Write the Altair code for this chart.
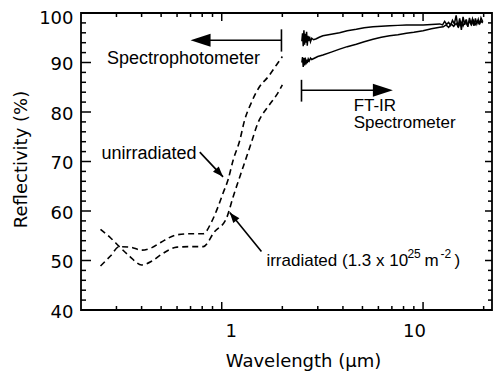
import altair as alt
import pandas as pd

# ---------------- data ----------------
# Spectrophotometer (dashed)
unirr_wl = [0.25, 0.28, 0.31, 0.35, 0.40, 0.45, 0.50, 0.60, 0.70, 0.81, 0.89, 0.96, 1.015, 1.075,
            1.14, 1.23, 1.30, 1.40, 1.54, 1.70, 1.87, 2.0]
unirr_r = [48.9, 50.9, 52.8, 52.7, 52.1, 52.6, 53.7, 55.2, 55.4, 55.4, 57.8, 60.9, 63.6, 66.3,
           70.3, 74.3, 78.4, 81.8, 85.1, 87.1, 89.5, 91.2]
irr_wl = [0.25, 0.28, 0.31, 0.35, 0.40, 0.45, 0.50, 0.60, 0.70, 0.81, 0.92, 1.055, 1.14, 1.28,
          1.40, 1.51, 1.70, 1.87, 2.0]
irr_r = [56.3, 54.6, 52.8, 50.8, 49.1, 49.9, 51.2, 52.7, 52.8, 52.8, 55.8, 58.5, 62.9, 69.0,
         73.7, 77.7, 81.1, 83.4, 85.5]

# FT-IR (solid)
ftir_unirr_wl = [2.50, 2.52, 2.54, 2.56, 2.58, 2.60, 2.62, 2.64, 2.66, 2.68, 2.70, 2.73, 2.76, 2.80,
                 2.86, 2.95, 3.05, 3.18, 3.5, 3.85, 4.2, 4.66, 5.1, 5.64, 6.2, 6.82, 7.5, 8.26, 9.0,
                 10.0, 11.0, 12.1, 12.5, 12.8, 13.1, 13.4, 13.7, 14.0, 14.3, 14.6, 14.9, 15.2, 15.5,
                 15.8, 16.1, 16.4, 16.7, 17.0, 17.3, 17.6, 17.9, 18.2, 18.5, 18.8, 19.1, 19.4, 19.8]
ftir_unirr_r = [94.3, 95.9, 93.3, 96.5, 93.6, 95.8, 94.0, 96.2, 93.4, 95.4, 94.3, 95.2, 94.2, 94.9,
                94.6, 94.8, 95.1, 95.4, 95.7, 96.0, 96.4, 96.7, 97.0, 97.2, 97.3, 97.4, 97.5, 97.6, 97.6,
                97.6, 97.7, 97.8, 97.6, 98.3, 97.7, 98.1, 97.5, 98.5, 97.8, 99.5, 97.1, 98.9, 96.6,
                99.2, 97.6, 98.7, 97.2, 99.0, 97.9, 98.8, 97.4, 98.9, 97.8, 98.7, 97.7, 99.0, 98.2]
ftir_irr_wl = [2.50, 2.52, 2.54, 2.56, 2.58, 2.60, 2.62, 2.64, 2.66, 2.69, 2.72, 2.76, 2.80, 2.9, 3.0,
               3.18, 3.5, 3.85, 4.2, 4.66, 5.1, 5.64, 6.2, 6.82, 7.5, 8.26, 9.0, 10.0, 11.0, 12.1,
               12.6, 13.0, 13.4, 13.8, 14.2, 14.6, 15.0, 15.4, 15.8, 16.2, 16.6, 17.0, 17.4, 17.8,
               18.2, 18.6, 19.0, 19.4, 19.8]
ftir_irr_r = [90.0, 91.1, 89.1, 90.9, 89.4, 91.0, 89.6, 90.6, 89.9, 90.7, 90.3, 90.9, 90.6, 90.9, 91.2,
              91.5, 92.1, 92.7, 93.2, 93.7, 94.2, 94.7, 95.1, 95.4, 95.6, 95.9, 96.1, 96.4, 96.8, 97.1,
              97.2, 97.6, 97.1, 97.8, 97.3, 97.9, 97.2, 98.3, 97.4, 98.4, 97.5, 98.3, 97.6, 98.5,
              97.7, 98.4, 97.8, 98.3, 98.0]

# axis ticks / labels
x_label_vals = [1, 10]
x_minor = [0.3, 0.4, 0.5, 0.6, 0.7, 0.8, 0.9, 2, 3, 4, 5, 6, 7, 8, 9, 20]
y_major = [40, 50, 60, 70, 80, 90, 100]
y_minor = [42, 44, 46, 48, 52, 54, 56, 58, 62, 64, 66, 68, 72, 74, 76, 78,
           82, 84, 86, 88, 92, 94, 96, 98]

# annotations (anchor points in data units)
texts = ["Spectrophotometer", "unirradiated"]
text_wl = [0.269, 0.253]
text_r = [89.6, 70.6]
ftir_texts = ["FT-IR", "Spectrometer"]
ftir_text_wl = [4.52, 4.52]
ftir_text_r = [80.3, 76.8]
# "irradiated (1.3 x 10^25 m^-2)" in normal and superscript pieces
irr_label_wl = 1.667
irr_label_r = 48.9
irr_parts = ["irradiated (1.3 x 10", "25", "m", "-2", ")"]
irr_parts_super = [False, True, False, True, False]

# bracket arrows
spec_bar = [1.98, 96.7, 92.2]            # wl, top, bottom
spec_arrow = [1.98, 0.84, 94.5, 0.70]    # start wl, shaft end wl, r, tip wl
ftir_bar = [2.49, 86.5, 82.1]
ftir_arrow = [2.49, 5.9, 84.4, 7.08]
# label pointers: start (wl, r) -> tip (wl, r)
ptr_unirr = [0.778, 71.9, 1.015, 66.9]
ptr_irr = [1.575, 51.8, 1.096, 59.7]

# ---------------- chart ----------------
W, H = 411, 297
FONT = "Liberation Sans"
AXFONT = "DejaVu Sans"

xscale = alt.Scale(type="log", domain=[0.2, 22], nice=False)
yscale = alt.Scale(domain=[40, 100], nice=False, zero=False)

xaxis = alt.Axis(values=x_label_vals, format=".0f", ticks=False, tickSize=0, domain=False, grid=False,
                 labelFont=AXFONT, labelFontSize=18, labelColor="black", labelPadding=12,
                 labelFlush=False,
                 labelOffset={"condition": {"test": "datum.value < 5", "value": 9}, "value": -9},
                 titleFont=AXFONT, titleFontSize=18, titleFontWeight="normal", titleColor="black",
                 titleX=222, titleY=56, titleBaseline="alphabetic", titleAlign="center")
yaxis = alt.Axis(values=y_major, ticks=False, tickSize=0, domain=False, grid=False,
                 labelFont=AXFONT, labelFontSize=18, labelColor="black", labelPadding=8,
                 labelFlush=False,
                 labelOffset={"condition": {"test": "datum.value > 95", "value": 5}, "value": 2},
                 titleFont=AXFONT, titleFontSize=18, titleFontWeight="normal", titleColor="black",
                 titleAngle=270, titleX=-55, titleY=146, titleBaseline="alphabetic",
                 titleAlign="center")


def X(field="wl"):
    return alt.X(f"{field}:Q", scale=xscale, axis=xaxis, title="Wavelength (µm)")


def Y(field="r"):
    return alt.Y(f"{field}:Q", scale=yscale, axis=yaxis, title="Reflectivity (%)")


spec_df = pd.concat([
    pd.DataFrame({"wl": unirr_wl, "r": unirr_r, "s": "unirradiated"}),
    pd.DataFrame({"wl": irr_wl, "r": irr_r, "s": "irradiated"}),
])
ftir_df = pd.concat([
    pd.DataFrame({"wl": ftir_unirr_wl, "r": ftir_unirr_r, "s": "unirradiated"}),
    pd.DataFrame({"wl": ftir_irr_wl, "r": ftir_irr_r, "s": "irradiated"}),
])

dashed = alt.Chart(spec_df).mark_line(
    color="black", strokeWidth=1.6, strokeDash=[6, 4], interpolate="monotone"
).encode(x=X(), y=Y(), detail="s:N")

solid = alt.Chart(ftir_df).mark_line(color="black", strokeWidth=1.5).encode(
    x=X(), y=Y(), detail="s:N")


def ticks(vals, side, length):
    df = pd.DataFrame({"wl": vals, "r": vals})
    c = alt.Chart(df).mark_rule(color="black", strokeWidth=1.5)
    if side == "bottom":
        return c.encode(x=X(), y=alt.value(H), y2=alt.value(H - length))
    if side == "top":
        return c.encode(x=X(), y=alt.value(0), y2=alt.value(length))
    if side == "left":
        return c.encode(y=Y(), x=alt.value(0), x2=alt.value(length))
    return c.encode(y=Y(), x=alt.value(W), x2=alt.value(W - length))


tick_layers = [
    ticks(x_label_vals, "bottom", 8), ticks(x_minor, "bottom", 4),
    ticks(x_label_vals, "top", 8), ticks(x_minor, "top", 4),
    ticks(y_major, "left", 10), ticks(y_minor, "left", 5),
    ticks(y_major, "right", 7), ticks(y_minor, "right", 4),
]

text_df = pd.DataFrame({"wl": text_wl, "r": text_r, "t": texts})
text_layer = alt.Chart(text_df).mark_text(
    align="left", baseline="alphabetic", font=FONT, fontSize=18, color="black"
).encode(x=X(), y=Y(), text="t:N")

ftir_text_df = pd.DataFrame({"wl": ftir_text_wl, "r": ftir_text_r, "t": ftir_texts})
ftir_text_layer = alt.Chart(ftir_text_df).mark_text(
    align="left", baseline="alphabetic", font=FONT, fontSize=17, color="black"
).encode(x=X(), y=Y(), text="t:N")

part_dx = [0, 141, 158, 174, 188]
irr_layers = []
for txt, sup, dx in zip(irr_parts, irr_parts_super, part_dx):
    df = pd.DataFrame({"wl": [irr_label_wl], "r": [irr_label_r], "t": [txt]})
    irr_layers.append(alt.Chart(df).mark_text(
        align="left", baseline="alphabetic", font=FONT,
        fontSize=12 if sup else 17, dx=dx, dy=-8 if sup else 0, color="black"
    ).encode(x=X(), y=Y(), text="t:N"))

bars_df = pd.DataFrame({"wl": [spec_bar[0], ftir_bar[0]], "r": [spec_bar[1], ftir_bar[1]],
                        "r2": [spec_bar[2], ftir_bar[2]]})
bars = alt.Chart(bars_df).mark_rule(color="black", strokeWidth=1.6).encode(
    x=X(), y=Y(), y2="r2:Q")

shaft_df = pd.DataFrame({
    "wl": [spec_arrow[0], ftir_arrow[0], ptr_unirr[0], ptr_irr[0]],
    "wl2": [spec_arrow[1], ftir_arrow[1], ptr_unirr[2], ptr_irr[2]],
    "r": [spec_arrow[2], ftir_arrow[2], ptr_unirr[1], ptr_irr[1]],
    "r2": [spec_arrow[2], ftir_arrow[2], ptr_unirr[3], ptr_irr[3]],
})
shafts = alt.Chart(shaft_df).mark_rule(color="black", strokeWidth=1.6).encode(
    x=X(), x2="wl2:Q", y=Y(), y2="r2:Q")

BIG = "M0,0L-2,-0.65L-2,0.65Z"
SMALL = "M0,0L-2,-0.75L-2,0.75Z"


def head(wl, r, angle, shape, size):
    df = pd.DataFrame({"wl": [wl], "r": [r]})
    return alt.Chart(df).mark_point(
        shape=shape, size=size, filled=True, color="black", opacity=1, angle=angle
    ).encode(x=X(), y=Y())


heads = [
    head(spec_arrow[3], spec_arrow[2], 180, BIG, 400),
    head(ftir_arrow[3], ftir_arrow[2], 0, BIG, 400),
    head(ptr_unirr[2], ptr_unirr[3], 47, SMALL, 110),
    head(ptr_irr[2], ptr_irr[3], 231, SMALL, 110),
]

chart = alt.layer(
    dashed, solid, *tick_layers, text_layer, ftir_text_layer, *irr_layers, bars, shafts, *heads
).properties(
    width=W, height=H,
    autosize=alt.AutoSizeParams(type="none"),
    padding={"left": 73, "top": 5, "right": 1, "bottom": 62},
    background="white",
).configure_view(stroke="black", strokeWidth=1.8)

chart.save("out.html", embed_options={"renderer": "svg", "actions": False})
